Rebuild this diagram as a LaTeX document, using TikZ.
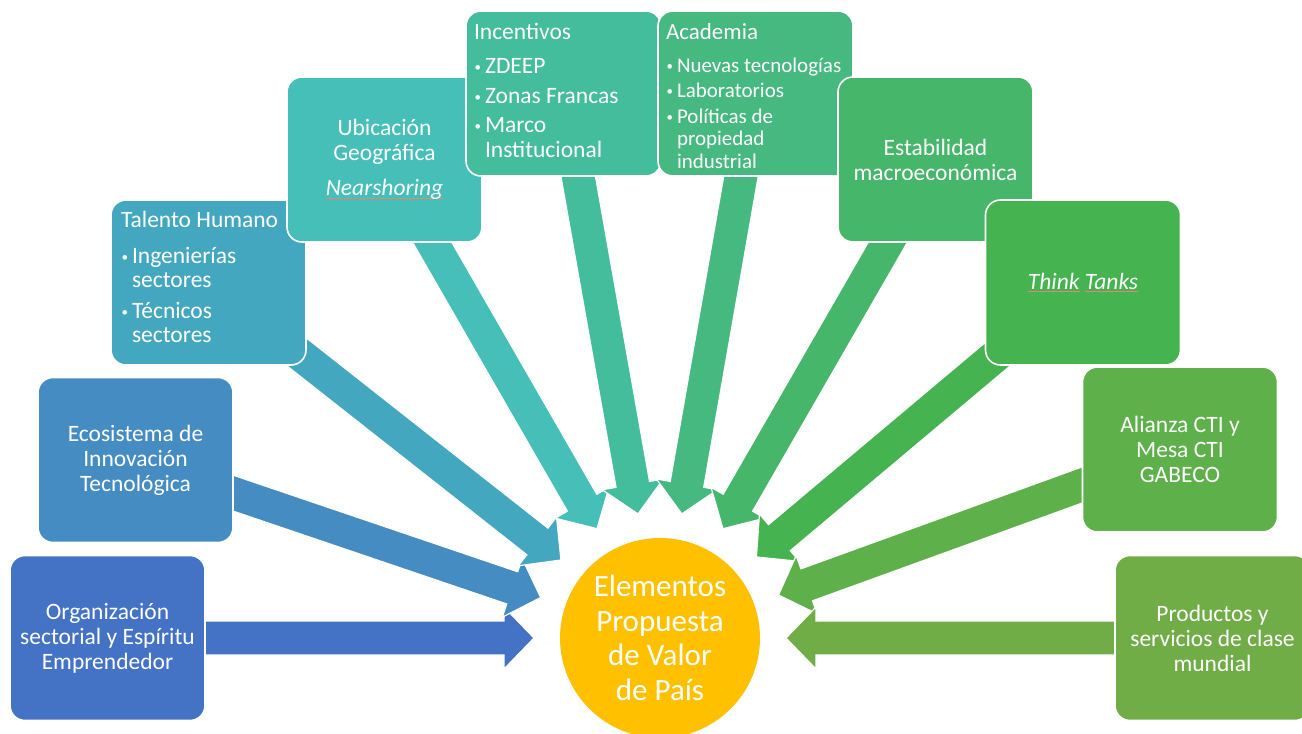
\documentclass[tikz,border=0pt]{standalone}
\usepackage{fontspec}
\setmainfont{Carlito}
\usetikzlibrary{calc}
\definecolor{cA}{HTML}{4472C4}
\definecolor{cB}{HTML}{458CC3}
\definecolor{cC}{HTML}{44A7C0}
\definecolor{cD}{HTML}{45BFB8}
\definecolor{cE}{HTML}{44BD9C}
\definecolor{cF}{HTML}{45B980}
\definecolor{cG}{HTML}{46B66A}
\definecolor{cH}{HTML}{45B34F}
\definecolor{cI}{HTML}{5DB04A}
\definecolor{cJ}{HTML}{70AD47}
\definecolor{cHub}{HTML}{FFC000}
\definecolor{squigc}{HTML}{E8837A}
\newsavebox\sqbox
\newcommand\squig[1]{\sbox\sqbox{#1}\rlap{\color{squigc}\rule[-3pt]{\wd\sqbox}{0.8pt}}\usebox\sqbox}
\newcommand\bitem[2][0pt]{\par\vspace{#1}\hangindent=11pt\hangafter=1\noindent
  \makebox[11pt][l]{\hspace{0.5pt}\raisebox{1.5pt}{\fontsize{13}{13}\selectfont\textbullet}}#2\par}
\newcommand\convarrow[2]{%
  \path[fill=#2, draw=white, line width=1.2pt]
    let \p1=(#1.center), \p2=(hub.center),
        \n1={atan2(\y2-\y1,\x2-\x1)},
        \n2={veclen(\x2-\x1,\y2-\y1)-126pt}
    in ([shift={(\p1)},rotate=\n1]0pt,17pt)
    -- ([shift={(\p1)},rotate=\n1]\n2-30pt,17pt)
    -- ([shift={(\p1)},rotate=\n1]\n2-30pt,31pt)
    -- ([shift={(\p1)},rotate=\n1]\n2,0pt)
    -- ([shift={(\p1)},rotate=\n1]\n2-30pt,-31pt)
    -- ([shift={(\p1)},rotate=\n1]\n2-30pt,-17pt)
    -- ([shift={(\p1)},rotate=\n1]0pt,-17pt) -- cycle;
}
\tikzset{
  box/.style={rectangle, rounded corners=15pt, draw=white, line width=1.6pt,
    minimum width=195pt, minimum height=165pt, text=white, align=center,
    inner sep=4pt, font=\fontsize{23.5}{25}\selectfont},
  hubstyle/.style={circle, fill=cHub, minimum size=200pt, inner sep=0pt,
    text=white, align=center, font=\fontsize{31}{34.5}\selectfont}
}
\begin{document}
\begin{tikzpicture}[x=1pt,y=-1pt]
\useasboundingbox (0,0) rectangle (1302,734);
\node[hubstyle] (hub) at (660,638) {Elementos\\Propuesta\\de Valor\\de País};
% box centres used by the arrows
\coordinate (org) at (107.5,638);
\coordinate (eco) at (135.5,460);
\coordinate (tal) at (208.5,282.5);
\coordinate (ubi) at (384.5,159.5);
\coordinate (inc) at (563.5,93.5);
\coordinate (aca) at (755.5,93.5);
\coordinate (est) at (935.5,159.5);
\coordinate (thk) at (1083,282.5);
\coordinate (ali) at (1180,449.5);
\coordinate (pro) at (1212.5,638);
% arrows
\convarrow{org}{cA}
\convarrow{eco}{cB}
\convarrow{tal}{cC}
\convarrow{ubi}{cD}
\convarrow{inc}{cE}
\convarrow{aca}{cF}
\convarrow{est}{cG}
\convarrow{thk}{cH}
\convarrow{ali}{cI}
\convarrow{pro}{cJ}
% boxes
\node[box, fill=cA] (borg) at (org) {Organización\\sectorial y Espíritu\\Emprendedor};
\node[box, fill=cB] (beco) at (eco) {Ecosistema de\\Innovación\\Tecnológica};
\node[box, fill=cC, inner sep=8pt, align=left] (btal) at (tal) {\parbox[t][149pt][t]{179pt}{\raggedright\fontsize{23.5}{24}\selectfont
  \noindent\hspace{2pt}\rule{0pt}{19pt}Talento Humano\par
  \leftskip=2pt
  \bitem[12pt]{Ingenierías\newline sectores}
  \bitem[7pt]{Técnicos\newline sectores}}};
\node[box, fill=cD] (bubi) at (ubi) {Ubicación\\Geográfica\\[10pt]\textit{\squig{Nearshoring}}};
\node[box, fill=cE, inner sep=8pt, align=left] (binc) at (inc) {\parbox[t][149pt][t]{179pt}{\raggedright\fontsize{23.5}{25}\selectfont
  \noindent\rule{0pt}{20pt}Incentivos\par
  \bitem[9pt]{ZDEEP}
  \bitem[5pt]{Zonas Francas}
  \bitem[4pt]{Marco\newline Institucional}}};
\node[box, fill=cF, inner sep=8pt, align=left] (baca) at (aca) {\parbox[t][149pt][t]{179pt}{\raggedright\fontsize{23}{24}\selectfont
  \noindent\rule{0pt}{20pt}Academia\par
  \fontsize{21}{22.5}\selectfont
  \bitem[10.5pt]{Nuevas tecnologías}
  \bitem[2.5pt]{Laboratorios}
  \bitem[3.5pt]{Políticas de\newline propiedad\newline industrial}}};
\node[box, fill=cG] (best) at (est) {Estabilidad\\macroeconómica};
\node[box, fill=cH] (bthk) at (thk) {\textit{\squig{Think} \squig{Tanks}}};
\node[box, fill=cI] (bali) at (ali) {Alianza CTI y\\Mesa CTI\\GABECO};
\node[box, fill=cJ] (bpro) at (pro) {Productos y\\servicios de clase\\mundial};
\end{tikzpicture}
\end{document}
